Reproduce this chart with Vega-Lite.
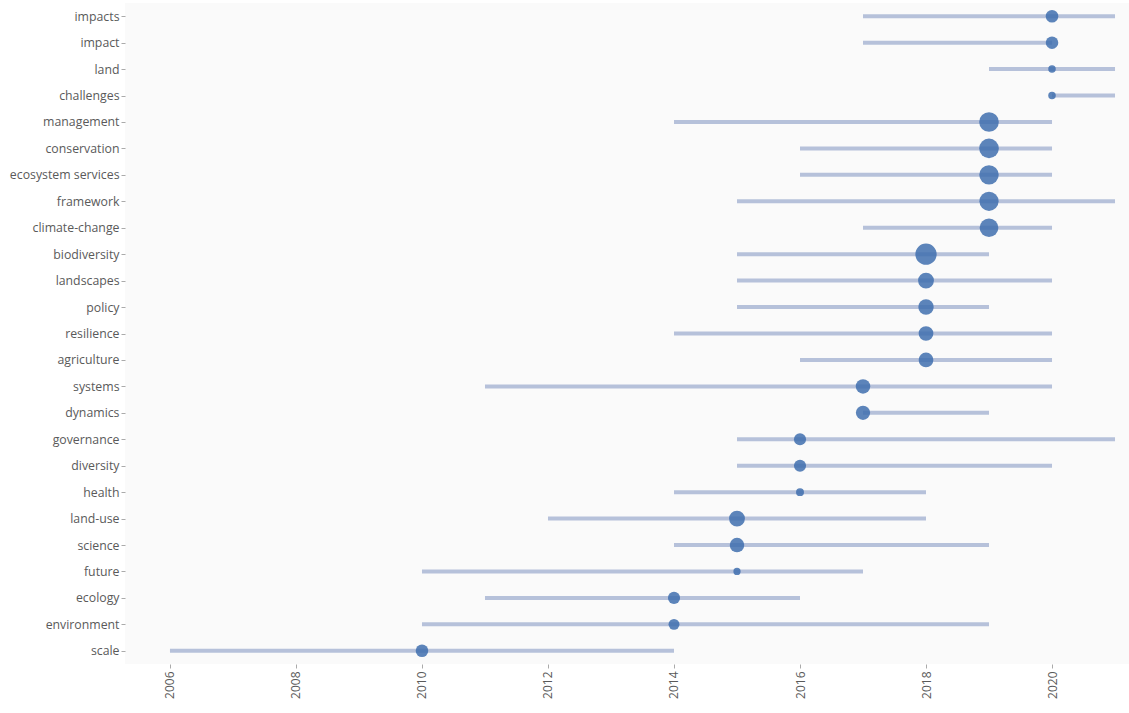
{
  "$schema": "https://vega.github.io/schema/vega-lite/v6.json",
  "width": 1004,
  "height": 661,
  "autosize": {"type": "none"},
  "padding": {"left": 125, "top": 3, "right": 0, "bottom": 49},
  "background": "#ffffff",
  "config": {
    "view": {"fill": "#fafafa", "stroke": null},
    "axis": {
      "grid": false,
      "domain": false,
      "tickColor": "#aaaaaa",
      "tickSize": 4,
      "labelFont": "Open Sans",
      "labelFontSize": 12.3,
      "labelColor": "#5a5a5a",
      "labelPadding": 2,
      "title": null
    }
  },
  "data": {
    "values": [
      {"term": "impacts", "start": 2017, "end": 2021, "median": 2020, "freq": 45},
      {"term": "impact", "start": 2017, "end": 2020, "median": 2020, "freq": 45},
      {"term": "land", "start": 2019, "end": 2021, "median": 2020, "freq": 16},
      {"term": "challenges", "start": 2020, "end": 2021, "median": 2020, "freq": 16},
      {"term": "management", "start": 2014, "end": 2020, "median": 2019, "freq": 110},
      {"term": "conservation", "start": 2016, "end": 2020, "median": 2019, "freq": 110},
      {"term": "ecosystem services", "start": 2016, "end": 2020, "median": 2019, "freq": 108},
      {"term": "framework", "start": 2015, "end": 2021, "median": 2019, "freq": 105},
      {"term": "climate-change", "start": 2017, "end": 2020, "median": 2019, "freq": 100},
      {"term": "biodiversity", "start": 2015, "end": 2019, "median": 2018, "freq": 130},
      {"term": "landscapes", "start": 2015, "end": 2020, "median": 2018, "freq": 72},
      {"term": "policy", "start": 2015, "end": 2019, "median": 2018, "freq": 68},
      {"term": "resilience", "start": 2014, "end": 2020, "median": 2018, "freq": 62},
      {"term": "agriculture", "start": 2016, "end": 2020, "median": 2018, "freq": 62},
      {"term": "systems", "start": 2011, "end": 2020, "median": 2017, "freq": 60},
      {"term": "dynamics", "start": 2017, "end": 2019, "median": 2017, "freq": 58},
      {"term": "governance", "start": 2015, "end": 2021, "median": 2016, "freq": 42},
      {"term": "diversity", "start": 2015, "end": 2020, "median": 2016, "freq": 42},
      {"term": "health", "start": 2014, "end": 2018, "median": 2016, "freq": 18},
      {"term": "land-use", "start": 2012, "end": 2018, "median": 2015, "freq": 72},
      {"term": "science", "start": 2014, "end": 2019, "median": 2015, "freq": 60},
      {"term": "future", "start": 2010, "end": 2017, "median": 2015, "freq": 15},
      {"term": "ecology", "start": 2011, "end": 2016, "median": 2014, "freq": 42},
      {"term": "environment", "start": 2010, "end": 2019, "median": 2014, "freq": 34},
      {"term": "scale", "start": 2006, "end": 2014, "median": 2010, "freq": 45}
    ]
  },
  "encoding": {
    "y": {
      "field": "term",
      "type": "nominal",
      "sort": null,
      "scale": {"type": "point", "padding": 0.5}
    }
  },
  "layer": [
    {
      "mark": {"type": "rule", "strokeWidth": 4, "color": "#aebad6", "opacity": 0.9},
      "encoding": {
        "x": {
          "field": "start",
          "type": "quantitative",
          "scale": {"domain": [2005.286, 2021.222], "nice": false, "zero": false},
          "axis": {"values": [2006, 2008, 2010, 2012, 2014, 2016, 2018, 2020], "format": "d", "labelAngle": -90, "labelFontSize": 12, "labelPadding": 3}
        },
        "x2": {"field": "end"}
      }
    },
    {
      "mark": {"type": "circle", "color": "#3f6fae", "opacity": 0.85},
      "encoding": {
        "x": {"field": "median", "type": "quantitative"},
        "size": {
          "field": "freq",
          "type": "quantitative",
          "scale": {"domain": [0, 130], "range": [0, 455], "zero": true},
          "legend": null
        }
      }
    }
  ]
}
